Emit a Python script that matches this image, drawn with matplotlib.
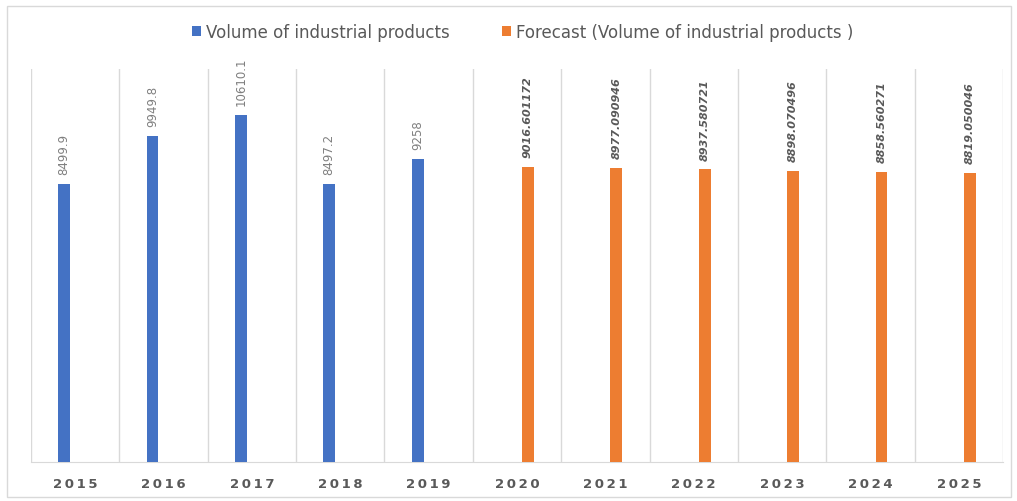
import numpy as np
import matplotlib.pyplot as plt
from matplotlib.patches import Rectangle

# Data
years = ['2015', '2016', '2017', '2018', '2019', '2020',
         '2021', '2022', '2023', '2024', '2025']
actual = [8499.9, 9949.8, 10610.1, 8497.2, 9258]
forecast = [9016.601172, 8977.090946, 8937.580721,
            8898.070496, 8858.560271, 8819.050046]

blue = '#4472c4'
orange = '#ed7d31'
grid_col = '#d9d9d9'
text_col = '#595959'

fig = plt.figure(figsize=(10.17, 5.02), dpi=100)
ax = fig.add_axes([31 / 1017, 39 / 502, 972 / 1017, 393 / 502])

# border around the whole chart
fig.patches.append(Rectangle((7 / 1017, 4 / 502), 1004 / 1017, 491 / 502,
                             transform=fig.transFigure, fill=False,
                             edgecolor=grid_col, linewidth=1))

ind = np.arange(len(years))
width = 0.135
off = 0.125

ind_a = ind[:len(actual)]
ind_f = ind[len(actual):]

b1 = ax.bar(ind_a - off, actual, width, color=blue,
            label='Volume of industrial products', zorder=3)
b2 = ax.bar(ind_f + off, forecast, width, color=orange,
            label='Forecast (Volume of industrial products )', zorder=3)

ax.bar_label(b1, labels=[f'{v:g}' for v in actual], padding=7,
             rotation=90, fontsize=8.5, color='#7f7f7f')
ax.bar_label(b2, labels=[f'{v:.6f}' for v in forecast], padding=7,
             rotation=90, fontsize=8, color=text_col,
             fontweight='bold', style='italic')

ax.set_xlim(-0.5, len(years) - 0.5)
ax.set_ylim(0, 12000)

# vertical separators between categories
for x in np.arange(len(years) + 1) - 0.5:
    ax.axvline(x, color=grid_col, linewidth=1, zorder=1)

for s in ['top', 'left', 'right']:
    ax.spines[s].set_visible(False)
ax.spines['bottom'].set_color(grid_col)
ax.set_yticks([])
ax.set_xticks(ind)
ax.set_xticklabels(['\u2009'.join(y) for y in years], fontsize=9.5,
                   fontweight='bold', color=text_col)
ax.tick_params(axis='x', length=0, pad=11)

fig.legend(loc='center', bbox_to_anchor=(0.514, 0.934), ncol=2,
           frameon=False, fontsize=12, labelcolor=text_col,
           handlelength=0.55, handleheight=0.55, handletextpad=0.3,
           columnspacing=3.1)

plt.savefig('out.png', dpi=100)
